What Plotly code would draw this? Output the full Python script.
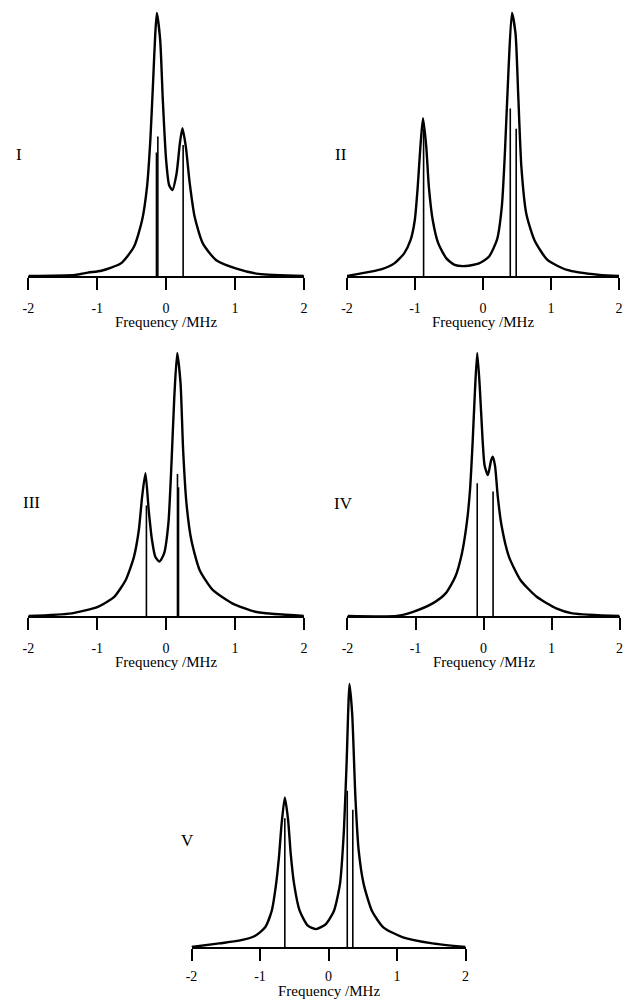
import plotly.graph_objects as go

# ---------------- data ----------------
# Panel I
i_freq = [-2.0, -1.32, -1.134, -0.94, -0.657, -0.467, -0.348, -0.277, -0.229, -0.19, -0.157, -0.134,
          -0.086, -0.048, 0.0, 0.043, 0.09, 0.152, 0.2, 0.237, 0.286, 0.343, 0.414, 0.533, 0.723,
          1.009, 1.343, 2.0]
i_int = [0.0, 0.004, 0.013, 0.02, 0.048, 0.111, 0.213, 0.34, 0.517, 0.733, 0.923, 1.0,
         0.897, 0.669, 0.441, 0.346, 0.327, 0.39, 0.505, 0.562, 0.492, 0.352, 0.225, 0.124, 0.061,
         0.029, 0.008, 0.0]
i_stick_freq = [-0.14, -0.12, 0.247]
i_stick_int = [0.47, 0.53, 0.498]

# Panel II
ii_freq = [-2.0, -1.83, -1.5, -1.305, -1.16, -1.065, -1.003, -0.96, -0.921, -0.883, -0.835, -0.797,
           -0.74, -0.658, -0.539, -0.418, -0.251, -0.059, 0.085, 0.204, 0.276, 0.323, 0.372, 0.424,
           0.477, 0.516, 0.563, 0.635, 0.754, 0.947, 1.234, 1.713, 2.0]
ii_int = [0.0, 0.008, 0.025, 0.048, 0.086, 0.137, 0.213, 0.34, 0.492, 0.6, 0.492, 0.34,
          0.213, 0.124, 0.067, 0.042, 0.038, 0.048, 0.073, 0.137, 0.264, 0.479, 0.771, 1.0,
          0.923, 0.695, 0.416, 0.238, 0.137, 0.061, 0.023, 0.004, 0.0]
ii_stick_freq = [-0.874, 0.40, 0.487]
ii_stick_int = [0.56, 0.637, 0.56]

# Panel III
iii_freq = [-2.0, -1.37, -0.99, -0.753, -0.586, -0.467, -0.396, -0.348, -0.3, -0.253, -0.205, -0.157,
            -0.096, -0.029, 0.033, 0.08, 0.119, 0.161, 0.209, 0.247, 0.295, 0.366, 0.486, 0.676,
            0.961, 1.295, 2.0]
iii_int = [0.0, 0.01, 0.035, 0.073, 0.137, 0.225, 0.327, 0.454, 0.543, 0.403, 0.289, 0.225,
           0.207, 0.238, 0.352, 0.593, 0.834, 1.0, 0.886, 0.631, 0.429, 0.289, 0.175, 0.099,
           0.048, 0.016, 0.0]
iii_stick_freq = [-0.286, 0.165, 0.18]
iii_stick_int = [0.42, 0.54, 0.49]

# Panel IV
iv_freq = [-2.0, -1.275, -1.035, -0.748, -0.557, -0.414, -0.318, -0.247, -0.199, -0.161, -0.128, -0.093,
           -0.056, -0.017, 0.016, 0.064, 0.112, 0.136, 0.169, 0.208, 0.265, 0.374, 0.542, 0.781,
           1.068, 1.306, 2.0]
iv_int = [0.0, 0.0, 0.016, 0.048, 0.086, 0.15, 0.238, 0.352, 0.479, 0.657, 0.847, 1.0,
          0.873, 0.683, 0.571, 0.536, 0.593, 0.606, 0.571, 0.457, 0.343, 0.225, 0.137, 0.073,
          0.029, 0.01, 0.0]
iv_stick_freq = [-0.093, 0.14]
iv_stick_int = [0.505, 0.473]

# Panel V
v_freq = [-2.0, -1.595, -1.307, -1.069, -0.925, -0.829, -0.772, -0.724, -0.685, -0.638, -0.589, -0.552,
          -0.503, -0.422, -0.302, -0.182, -0.039, 0.08, 0.167, 0.224, 0.263, 0.306, 0.345, 0.392,
          0.44, 0.512, 0.632, 0.799, 1.086, 1.517, 2.0]
v_int = [0.0, 0.014, 0.024, 0.043, 0.075, 0.138, 0.227, 0.341, 0.468, 0.569, 0.48, 0.354,
         0.24, 0.138, 0.081, 0.068, 0.087, 0.138, 0.24, 0.442, 0.696, 1.0, 0.886, 0.569,
         0.366, 0.24, 0.138, 0.075, 0.037, 0.014, 0.0]
v_stick_freq = [-0.638, 0.273, 0.354]
v_stick_int = [0.49, 0.594, 0.522]

panel_names = ["I", "II", "III", "IV", "V"]
tick_vals = [-2, -1, 0, 1, 2]
tick_text = ["-2", "-1", "0", "1", "2"]
x_title = "Frequency /MHz"

panels = [
    (i_freq, i_int, i_stick_freq, i_stick_int),
    (ii_freq, ii_int, ii_stick_freq, ii_stick_int),
    (iii_freq, iii_int, iii_stick_freq, iii_stick_int),
    (iv_freq, iv_int, iv_stick_freq, iv_stick_int),
    (v_freq, v_int, v_stick_freq, v_stick_int),
]

# ---------------- layout geometry (pixels) ----------------
W, H = 630, 1002
SCALE = 263.0          # px per unit intensity
YMAX = 1.04
geom = [  # x_left, x_right, baseline
    (22.7, 302.7, 276),
    (346.5, 623.0, 276),
    (22.7, 302.7, 616),
    (347.0, 623.5, 616),
    (188.5, 467.0, 947),
]
standoff = [6, 6, 6, 6, 3]
title_shift = [-46, -46, -46, -46, -44]
label_pos = [(13, 155), (340, 155), (26, 502), (343, 503), (184, 840)]

SERIF = "Liberation Serif, Times New Roman, serif"

fig = go.Figure()
layout = dict(
    width=W, height=H, margin=dict(l=0, r=0, t=0, b=0),
    paper_bgcolor="white", plot_bgcolor="white", showlegend=False,
    annotations=[],
)

for k, ((fx, fy, sx, sy), (xl, xr, base)) in enumerate(zip(panels, geom)):
    n = k + 1
    xa = "x" if n == 1 else f"x{n}"
    ya = "y" if n == 1 else f"y{n}"
    # spectrum
    fig.add_trace(go.Scatter(x=fx, y=fy, mode="lines", xaxis=xa, yaxis=ya,
                             line=dict(color="black", width=2.4, shape="spline", smoothing=0.6),
                             hoverinfo="skip"))
    # sticks
    stx, sty = [], []
    for f, h in zip(sx, sy):
        stx += [f, f, None]
        sty += [0, h, None]
    fig.add_trace(go.Scatter(x=stx, y=sty, mode="lines", xaxis=xa, yaxis=ya,
                             line=dict(color="black", width=1.6), hoverinfo="skip"))
    top = base - SCALE * YMAX
    layout[f"xaxis{'' if n == 1 else n}"] = dict(
        domain=[xl / W, xr / W], anchor=ya, range=[-2, 2],
        showline=True, linecolor="black", linewidth=2,
        ticks="outside", ticklen=12, tickwidth=1.6, tickcolor="black",
        tickvals=tick_vals, ticktext=tick_text, ticklabelstandoff=standoff[k],
        ticklabeloverflow="allow",
        tickfont=dict(family=SERIF, size=14, color="black"),
        showgrid=False, zeroline=False, fixedrange=True,
    )
    layout[f"yaxis{'' if n == 1 else n}"] = dict(
        domain=[1 - base / H, 1 - top / H], anchor=xa, range=[0, YMAX],
        visible=False, showgrid=False, zeroline=False, fixedrange=True,
    )
    layout["annotations"].append(dict(
        text=x_title, xref=f"{xa} domain", yref=f"{ya} domain", x=0.5, y=0,
        xanchor="center", yanchor="middle", yshift=title_shift[k], showarrow=False,
        font=dict(family=SERIF, size=15, color="black")))
    lx, ly = label_pos[k]
    layout["annotations"].append(dict(
        text=panel_names[k], xref="paper", yref="paper", x=lx / W, y=1 - ly / H,
        xanchor="center", yanchor="middle", showarrow=False,
        font=dict(family=SERIF, size=17, color="black")))

fig.update_layout(**layout)
fig.write_html(
    "out.html",
    config={"displayModeBar": False},
    post_script="document.body.style.margin='0';document.body.style.overflow='hidden';",
)
